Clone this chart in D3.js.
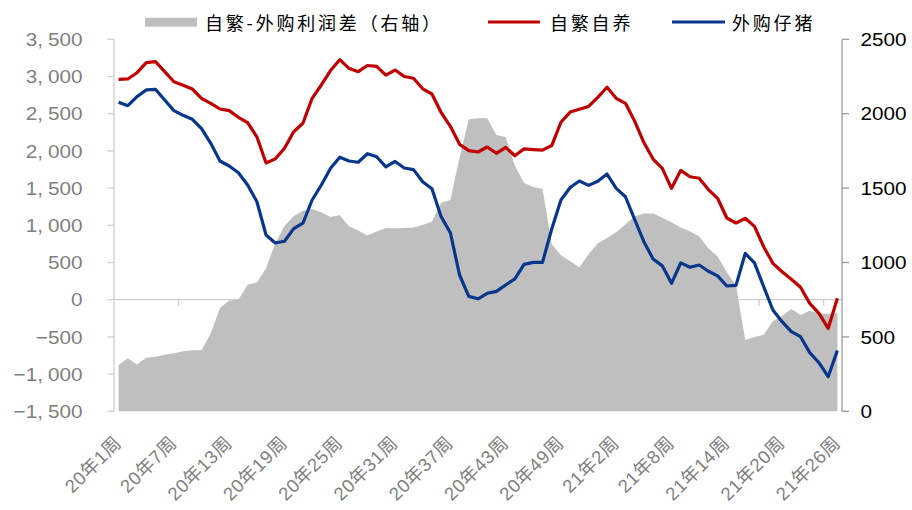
<!DOCTYPE html>
<html><head><meta charset="utf-8">
<script src="https://cdn.jsdelivr.net/npm/d3@7/dist/d3.min.js"></script>
<style>body{margin:0;background:#fff;} svg{display:block}</style>
</head><body>
<svg id="c" width="912" height="510"></svg>
<script>
// ---- data ----
const weeks = [];
for (let w = 1; w <= 53; w++) weeks.push("20年" + w + "周");
for (let w = 1; w <= 26; w++) weeks.push("21年" + w + "周");

const selfBred = [2962,2967,3051,3186,3199,3065,2930,2882,2832,2707,2640,2563,2541,2452,2380,2190,1838,1893,2035,2258,
  2371,2707,2886,3080,3226,3110,3065,3148,3136,3018,3087,3000,2976,2835,2765,2516,2330,2088,2003,1985,
  2052,1968,2048,1935,2028,2018,2010,2072,2385,2522,2560,2598,2720,2855,2707,2640,2400,2112,1890,1765,
  1497,1738,1653,1632,1480,1363,1098,1031,1094,986,712,489,376,274,167,-49,-183,-385,19];

const purchased = [2653,2608,2729,2819,2828,2684,2541,2478,2425,2299,2102,1864,1797,1707,1542,1320,870,762,785,955,
  1028,1340,1542,1766,1915,1864,1847,1962,1922,1785,1858,1770,1748,1586,1490,1116,900,332,45,12,
  86,112,198,280,475,502,502,950,1340,1508,1595,1537,1593,1689,1497,1384,1078,780,548,455,
  220,495,437,466,383,320,184,192,623,495,175,-138,-295,-430,-497,-712,-847,-1035,-682];

const profitDiff = [311,356,314,360,367,380,390,403,410,410,525,695,745,750,850,865,960,1129,1245,1310,
  1348,1360,1338,1305,1318,1243,1215,1182,1208,1232,1230,1232,1236,1252,1275,1402,1420,1705,1962,1969,
  1969,1857,1844,1650,1535,1507,1495,1125,1048,1008,968,1055,1130,1165,1205,1255,1310,1330,1330,1300,
  1270,1236,1210,1175,1095,1040,935,845,479,500,515,605,640,688,647,676,658,656,660];

const leftTicks = [-1500,-1000,-500,0,500,1000,1500,2000,2500,3000,3500];
const rightTicks = [0,500,1000,1500,2000,2500];
const labelEvery = 6;
const tickEvery = 7;

const seriesNames = ["自繁-外购利润差（右轴）", "自繁自养", "外购仔猪"];
const colors = {area:"#BFBFBF", red:"#C00000", blue:"#06378C"};

// ---- layout ----
const svg = d3.select("#c");
const L = 114, R = 842, T = 39.3, B = 411.3;
const x = d3.scaleBand().domain(d3.range(weeks.length)).range([L, R]);
const cx = i => x(i) + x.bandwidth() / 2;
const yL = d3.scaleLinear().domain([-1500, 3500]).range([B, T]);
const yR = d3.scaleLinear().domain([0, 2500]).range([B, T]);
const FONT = "'Liberation Sans', Arial, 'Noto Sans CJK SC', sans-serif";

// zero line with category ticks
const y0 = yL(0);
const xAxis = svg.append("g");
xAxis.append("line").attr("x1", L).attr("x2", R).attr("y1", y0).attr("y2", y0)
  .attr("stroke", "#D0D0D0").attr("stroke-width", 1.3);
for (let k = tickEvery; k < weeks.length; k += tickEvery) {
  const xx = L + k * x.step();
  xAxis.append("line").attr("x1", xx).attr("x2", xx).attr("y1", y0).attr("y2", y0 + 6)
    .attr("stroke", "#D0D0D0").attr("stroke-width", 1.3);
}

// area (right axis)
const area = d3.area().x((d, i) => cx(i)).y0(yR(0)).y1(d => yR(d));
svg.append("path").datum(profitDiff).attr("d", area).attr("fill", colors.area);

// lines (left axis)
const line = d3.line().x((d, i) => cx(i)).y(d => yL(d));
svg.append("path").datum(selfBred).attr("d", line).attr("fill", "none")
  .attr("stroke", colors.red).attr("stroke-width", 3.2).attr("stroke-linejoin", "round");
svg.append("path").datum(purchased).attr("d", line).attr("fill", "none")
  .attr("stroke", colors.blue).attr("stroke-width", 3.2).attr("stroke-linejoin", "round");

// left axis
const la = svg.append("g");
la.append("line").attr("x1", L).attr("x2", L).attr("y1", T).attr("y2", B).attr("stroke", "#D0D0D0").attr("stroke-width", 1.3);
leftTicks.forEach(v => {
  const yy = yL(v);
  la.append("line").attr("x1", L - 6.5).attr("x2", L).attr("y1", yy).attr("y2", yy).attr("stroke", "#D0D0D0").attr("stroke-width", 1.3);
  const t = la.append("text").attr("transform", `translate(82.5,${yy}) scale(1.12,1)`)
    .attr("text-anchor", "end").attr("dy", "0.36em")
    .attr("font-family", FONT).attr("font-size", 18.5).attr("fill", "#7F7F7F");
  const a = Math.abs(v), sign = v < 0 ? "\u2212" : "";
  if (a >= 1000) {
    const th = Math.floor(a / 1000), rest = String(a % 1000).padStart(3, "0");
    t.append("tspan").text(sign + th + ",");
    t.append("tspan").attr("dx", 4.5).text(rest);
  } else {
    t.text(sign + a);
  }
});

// right axis
const ra = svg.append("g");
ra.append("line").attr("x1", R).attr("x2", R).attr("y1", T).attr("y2", B).attr("stroke", "#9A9A9A").attr("stroke-width", 1.3);
rightTicks.forEach(v => {
  const yy = yR(v);
  ra.append("line").attr("x1", R).attr("x2", R + 7).attr("y1", yy).attr("y2", yy).attr("stroke", "#9A9A9A").attr("stroke-width", 1.3);
  ra.append("text").attr("transform", `translate(860.5,${yy}) scale(1.12,1)`)
    .attr("dy", "0.36em").attr("font-family", FONT).attr("font-size", 18.5).attr("fill", "#000")
    .text(v);
});

// x labels
const xl = svg.append("g");
weeks.forEach((w, i) => {
  if (i % labelEvery !== 0) return;
  xl.append("text").attr("transform", `translate(${cx(i) + 4},444) rotate(-45)`)
    .attr("text-anchor", "end").attr("font-family", FONT).attr("font-size", 18.5)
    .attr("letter-spacing", 0.6).attr("fill", "#7F7F7F")
    .text(w);
});

// legend
const lg = svg.append("g").attr("font-family", "'Noto Sans CJK SC', sans-serif").attr("font-size", 18).attr("fill", "#000");
lg.append("rect").attr("x", 145).attr("y", 17.7).attr("width", 52).attr("height", 9).attr("fill", colors.area);
lg.append("text").attr("x", 205).attr("y", 29.5).attr("letter-spacing", 2.8).text(seriesNames[0]);
lg.append("line").attr("x1", 488).attr("x2", 540).attr("y1", 22).attr("y2", 22).attr("stroke", colors.red).attr("stroke-width", 3.2);
lg.append("text").attr("x", 550).attr("y", 29.5).attr("letter-spacing", 2.8).text(seriesNames[1]);
lg.append("line").attr("x1", 672).attr("x2", 725).attr("y1", 22).attr("y2", 22).attr("stroke", colors.blue).attr("stroke-width", 3.2);
lg.append("text").attr("x", 732).attr("y", 29.5).attr("letter-spacing", 2.8).text(seriesNames[2]);
</script>
</body></html>
